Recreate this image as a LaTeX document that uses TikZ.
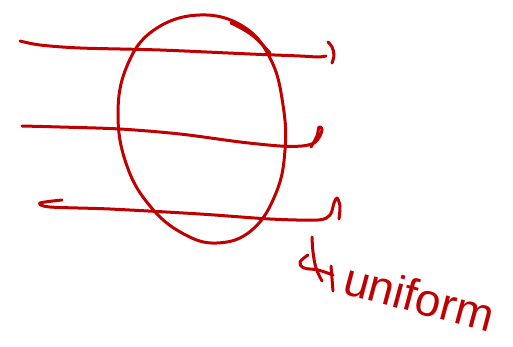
\documentclass[tikz,border=0pt]{standalone}
\usepackage{fontspec}
\setsansfont{Liberation Sans}
\usepackage{tikz}
\definecolor{inkred}{HTML}{C00000}
\tikzset{
  pen/.style={draw=inkred, line width=3pt, line cap=round, line join=round},
  ray/.style={pen},
  scrawl/.style={font=\sffamily\fontsize{46}{46}\selectfont, text=inkred, inner sep=0pt},
}
\begin{document}
\begin{tikzpicture}[x={(1pt,0)}, y={(0,-1pt)}]
  % canvas (pixel units, y downwards)
  \useasboundingbox (0,0) rectangle (513,347);

  % the body: a slightly tilted oval
  \draw[pen] plot[smooth cycle, tension=0.7] coordinates {
    (200,15) (244,27) (271,60) (283,105) (285,150) (276,193)
    (252,230) (217,243) (182,233) (150,206) (127,166) (118,115)
    (127,66) (154,30)};
  % overshoot of the stroke at the top right
  \draw[pen] plot[smooth, tension=0.7] coordinates {(231,23) (252,35) (270,53)};

  % three rays passing through, hooked at their right ends
  \draw[ray] plot[smooth, tension=0.5] coordinates {
    (20,41) (40,45) (80,48) (160,50) (250,54) (300,56) (318,57) (326,56)};
  \draw[ray] plot[smooth, tension=0.6] coordinates {(328,42) (332,47) (334,55) (332,63)};

  \draw[ray] plot[smooth, tension=0.5] coordinates {
    (22,126) (60,127) (120,129) (180,134) (240,142) (280,146) (302,146)
    (314,143) (320,136) (322,129) (319,127) (317,136) (311,147)};

  \draw[ray] plot[smooth, tension=0.5] coordinates {
    (62,200) (40,203) (50,207) (110,209) (200,214) (270,219) (318,220)
    (330,215) (334,203) (337,198) (340,206) (339,219)};

  % label with the scribble in front of it
  \draw[pen] plot[smooth, tension=0.6] coordinates {
    (312,237) (313,252) (316,268) (322,281)};
  \draw[pen] plot[smooth, tension=0.6] coordinates {
    (308,255) (300,262) (304,268) (318,270) (333,275)};
  \draw[pen] (331,266) -- (333,291);
  \node[scrawl, rotate=-15, anchor=base west] (lbl) at (341,293) {uniform};
\end{tikzpicture}
\end{document}
